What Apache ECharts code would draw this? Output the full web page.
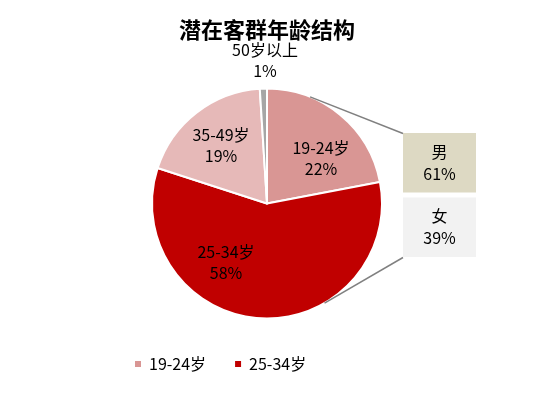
<!DOCTYPE html>
<html>
<head>
<meta charset="utf-8">
<script src="https://cdn.jsdelivr.net/npm/echarts@6/dist/echarts.min.js"></script>
<style>
html,body{margin:0;padding:0;background:#fff;}
#chart{width:534px;height:403px;}
</style>
</head>
<body>
<div id="chart"></div>
<script>
// Data
var titleText = '潜在客群年龄结构';
var ageGroups = ['19-24岁', '25-34岁', '35-49岁', '50岁以上'];
var ageShares = [22, 58, 19, 1];
var legendItems = ['19-24岁', '25-34岁'];
var genderNames = ['男', '女'];
var genderShares = [61, 39];

// Styles / layout (not data)
var ageColors = ['#D99694', '#C00000', '#E6B9B8', '#A6A6A6'];
var genderColors = ['#DDD9C3', '#F2F2F2'];
var font = '"Noto Sans CJK SC", "Microsoft YaHei", sans-serif';
var pieCenter = [267, 203.5];
var pieRadius = 115;
// label anchor points chosen to mimic the original layout
var labelAnchors = [[321, 158], [226, 262], [221, 145], [265, 60]];
var boxGrid = {left: 403, top: 130.5, width: 73, height: 129};

function piePoint(deg) {
  var a = deg * Math.PI / 180;
  return [pieCenter[0] + pieRadius * Math.cos(a), pieCenter[1] - pieRadius * Math.sin(a)];
}
var p1 = piePoint(68);
var p2 = piePoint(-60);

var chart = echarts.init(document.getElementById('chart'));
chart.setOption({
  backgroundColor: '#fff',
  animation: false,
  title: {
    text: titleText,
    left: 'center',
    top: 14,
    textStyle: {fontFamily: font, fontSize: 22, fontWeight: 'bold', color: '#000'}
  },
  legend: {
    data: legendItems,
    left: 133,
    top: 356,
    padding: 0,
    icon: 'rect',
    itemWidth: 8,
    itemHeight: 8,
    itemGap: 27,
    textStyle: {fontFamily: font, fontSize: 16, color: '#000', padding: [0, 0, 0, 2]}
  },
  grid: {left: boxGrid.left, top: boxGrid.top, width: boxGrid.width, height: boxGrid.height},
  xAxis: {type: 'value', min: 0, max: 1, show: false},
  yAxis: {type: 'category', data: genderNames, inverse: true, show: false},
  graphic: [
    {type: 'line', shape: {x1: p1[0], y1: p1[1], x2: boxGrid.left, y2: boxGrid.top + 3}, style: {stroke: '#808080', lineWidth: 1.5}, z: 10},
    {type: 'line', shape: {x1: p2[0], y1: p2[1], x2: boxGrid.left, y2: boxGrid.top + boxGrid.height - 2}, style: {stroke: '#808080', lineWidth: 1.5}, z: 10}
  ],
  series: [
    {
      type: 'pie',
      center: pieCenter,
      radius: pieRadius,
      startAngle: 90,
      clockwise: true,
      itemStyle: {borderColor: '#fff', borderWidth: 2},
      label: {
        show: true,
        position: 'inside',
        formatter: '{b}\n{c}%',
        fontFamily: font,
        fontSize: 16,
        lineHeight: 21,
        color: '#000'
      },
      labelLine: {show: false},
      labelLayout: function (params) {
        var p = labelAnchors[params.dataIndex];
        return {x: p[0], y: p[1], align: 'center', verticalAlign: 'middle'};
      },
      data: ageGroups.map(function (n, i) {
        return {name: n, value: ageShares[i], itemStyle: {color: ageColors[i]}};
      })
    },
    {
      type: 'bar',
      barCategoryGap: '7.75%',
      data: genderNames.map(function (n, i) {
        return {value: 1, itemStyle: {color: genderColors[i]}};
      }),
      label: {
        show: true,
        position: 'inside',
        formatter: function (p) { return genderNames[p.dataIndex] + '\n' + genderShares[p.dataIndex] + '%'; },
        fontFamily: font,
        fontSize: 16,
        lineHeight: 22,
        color: '#000'
      },
      silent: true
    }
  ]
});
</script>
</body>
</html>
